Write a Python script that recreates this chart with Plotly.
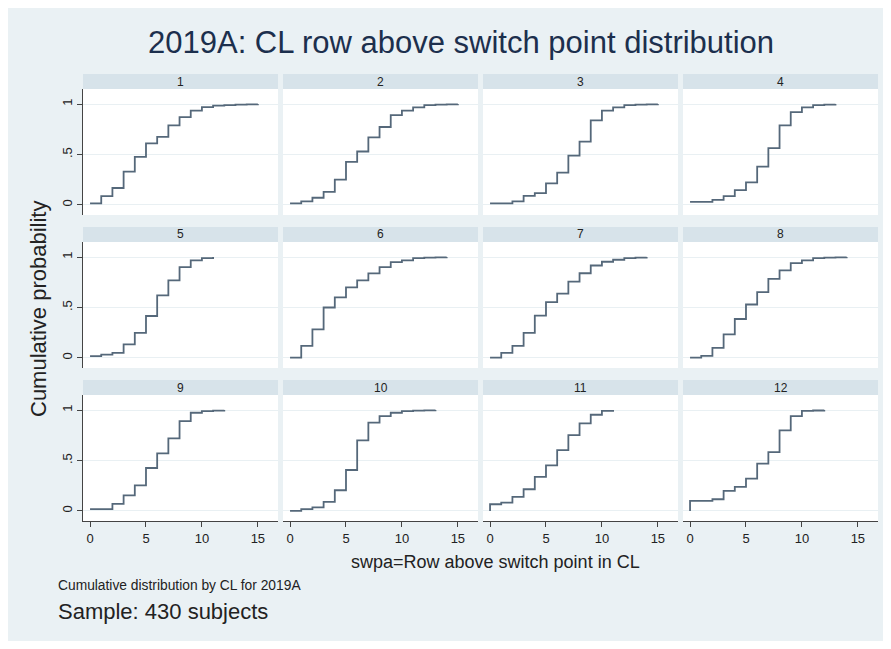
import plotly.graph_objects as go

# page body adds an 8px margin, so the figure occupies 8..883 x 8..641
OFF = 8
W, H = 891 - 2 * OFF, 649 - 2 * OFF

panel_labels = ["1", "2", "3", "4", "5", "6", "7", "8", "9", "10", "11", "12"]

cl1_x = list(range(0, 16))
cl1_y = [0.016, 0.087, 0.168, 0.33, 0.476, 0.61, 0.676, 0.79, 0.87, 0.935, 0.97, 0.985, 0.99, 0.995, 0.998, 1.0]
cl2_x = list(range(0, 16))
cl2_y = [0.016, 0.036, 0.071, 0.13, 0.25, 0.427, 0.53, 0.67, 0.773, 0.89, 0.935, 0.968, 0.99, 0.995, 0.998, 1.0]
cl3_x = list(range(0, 16))
cl3_y = [0.016, 0.016, 0.036, 0.09, 0.117, 0.214, 0.32, 0.49, 0.628, 0.838, 0.935, 0.968, 0.99, 0.995, 0.998, 1.0]
cl4_x = list(range(0, 14))
cl4_y = [0.03, 0.03, 0.05, 0.087, 0.146, 0.223, 0.38, 0.563, 0.79, 0.92, 0.968, 0.99, 0.995, 1.0]
cl5_x = list(range(0, 12))
cl5_y = [0.017, 0.033, 0.05, 0.135, 0.248, 0.416, 0.62, 0.77, 0.90, 0.967, 0.99, 1.0]
cl6_x = list(range(0, 15))
cl6_y = [0.003, 0.12, 0.284, 0.50, 0.60, 0.70, 0.77, 0.838, 0.90, 0.95, 0.967, 0.99, 0.995, 0.998, 1.0]
cl7_x = list(range(0, 15))
cl7_y = [0.003, 0.05, 0.12, 0.248, 0.42, 0.554, 0.637, 0.756, 0.84, 0.917, 0.954, 0.974, 0.99, 0.995, 1.0]
cl8_x = list(range(0, 15))
cl8_y = [0.003, 0.02, 0.10, 0.234, 0.386, 0.53, 0.653, 0.785, 0.868, 0.94, 0.967, 0.99, 0.995, 0.998, 1.0]
cl9_x = list(range(0, 13))
cl9_y = [0.017, 0.017, 0.07, 0.155, 0.254, 0.426, 0.57, 0.72, 0.89, 0.974, 0.99, 0.995, 1.0]
cl10_x = list(range(0, 14))
cl10_y = [0.0, 0.017, 0.036, 0.09, 0.205, 0.406, 0.70, 0.875, 0.94, 0.974, 0.99, 0.995, 0.998, 1.0]
cl11_x = [0] + list(range(0, 12))
cl11_y = [0.0, 0.066, 0.083, 0.139, 0.215, 0.337, 0.452, 0.604, 0.752, 0.868, 0.954, 0.993, 1.0]
cl12_x = [0] + list(range(0, 13))
cl12_y = [0.0, 0.10, 0.10, 0.116, 0.198, 0.238, 0.32, 0.469, 0.584, 0.80, 0.94, 0.993, 0.996, 1.0]

series_x = [cl1_x, cl2_x, cl3_x, cl4_x, cl5_x, cl6_x, cl7_x, cl8_x, cl9_x, cl10_x, cl11_x, cl12_x]
series_y = [cl1_y, cl2_y, cl3_y, cl4_y, cl5_y, cl6_y, cl7_y, cl8_y, cl9_y, cl10_y, cl11_y, cl12_y]

x_ticks = [0, 5, 10, 15]
y_ticks = [0, 0.5, 1]
y_ticktext = ["0", ".5", "1"]

BG = "#eaf1f4"
STRIP = "#d7e3ea"
LINE = "#55687a"
TXT = "#222222"
FONT = "Liberation Sans, Arial, sans-serif"


def px(x):
    return (x - OFF) / W


def py(y):
    return 1 - (y - OFF) / H


fig = go.Figure()
layout = dict(
    width=W, height=H,
    margin=dict(l=0, r=0, t=0, b=0),
    paper_bgcolor=BG,
    plot_bgcolor="white",
    showlegend=False,
    font=dict(family=FONT, color=TXT),
)
shapes = []
annotations = []

for i in range(12):
    r, c = divmod(i, 4)
    n = i + 1
    xl, xr = 83 + 200 * c, 278 + 200 * c
    top, bot = 89 + 153 * r, 215 + 153 * r
    xd = [px(xl), px(xr)]
    yd = [py(bot), py(top)]
    xa = "xaxis" if n == 1 else f"xaxis{n}"
    ya = "yaxis" if n == 1 else f"yaxis{n}"
    xs = "x" if n == 1 else f"x{n}"
    ys = "y" if n == 1 else f"y{n}"
    bottom_row = r == 2
    left_col = c == 0
    layout[xa] = dict(domain=xd, anchor=ys, range=[-0.63, 16.8],
                      tickvals=x_ticks, showticklabels=bottom_row,
                      showline=bottom_row, linecolor="#444444", linewidth=1,
                      ticks="outside" if bottom_row else "", ticklen=5, tickcolor="#444444",
                      showgrid=False, zeroline=False,
                      tickfont=dict(size=13, color=TXT), fixedrange=True)
    layout[ya] = dict(domain=yd, anchor=xs, range=[-0.1, 1.15],
                      tickvals=y_ticks, ticktext=y_ticktext, showticklabels=left_col,
                      showline=left_col, linecolor="#444444", linewidth=1,
                      ticks="outside" if left_col else "", ticklen=5, tickcolor="#444444",
                      tickangle=-90,
                      showgrid=True, gridcolor="#e9f0f3", gridwidth=1, zeroline=False,
                      tickfont=dict(size=13, color=TXT), fixedrange=True)
    fig.add_trace(go.Scatter(x=series_x[i], y=series_y[i], mode="lines",
                             line=dict(color=LINE, width=1.8, shape="hv"),
                             xaxis=xs, yaxis=ys, hoverinfo="x+y"))
    # strip
    st, sb = 74 + 153 * r, 89 + 153 * r
    shapes.append(dict(type="rect", xref="paper", yref="paper",
                       x0=px(xl), x1=px(xr), y0=py(sb), y1=py(st),
                       fillcolor=STRIP, line=dict(width=0)))
    annotations.append(dict(xref="paper", yref="paper", x=px((xl + xr) / 2),
                            y=py((st + sb) / 2), text=panel_labels[i],
                            showarrow=False, font=dict(size=12, color=TXT),
                            xanchor="center", yanchor="middle"))

annotations += [
    dict(xref="paper", yref="paper", x=px(461), y=py(43),
         text="2019A: CL row above switch point distribution", showarrow=False,
         font=dict(size=31, color="#1c2f4d"), xanchor="center", yanchor="middle"),
    dict(xref="paper", yref="paper", x=px(38), y=py(309),
         text="Cumulative probability", showarrow=False, textangle=-90,
         font=dict(size=22, color=TXT), xanchor="center", yanchor="middle"),
    dict(xref="paper", yref="paper", x=px(495), y=py(562),
         text="swpa=Row above switch point in CL", showarrow=False,
         font=dict(size=18, color=TXT), xanchor="center", yanchor="middle"),
    dict(xref="paper", yref="paper", x=px(56), y=py(585),
         text="Cumulative distribution by CL for 2019A", showarrow=False,
         font=dict(size=13.8, color=TXT), xanchor="left", yanchor="middle"),
    dict(xref="paper", yref="paper", x=px(56), y=py(611),
         text="Sample: 430 subjects", showarrow=False,
         font=dict(size=22, color=TXT), xanchor="left", yanchor="middle"),
]

layout["shapes"] = shapes
layout["annotations"] = annotations
fig.update_layout(**layout)
fig.write_html("out.html")
